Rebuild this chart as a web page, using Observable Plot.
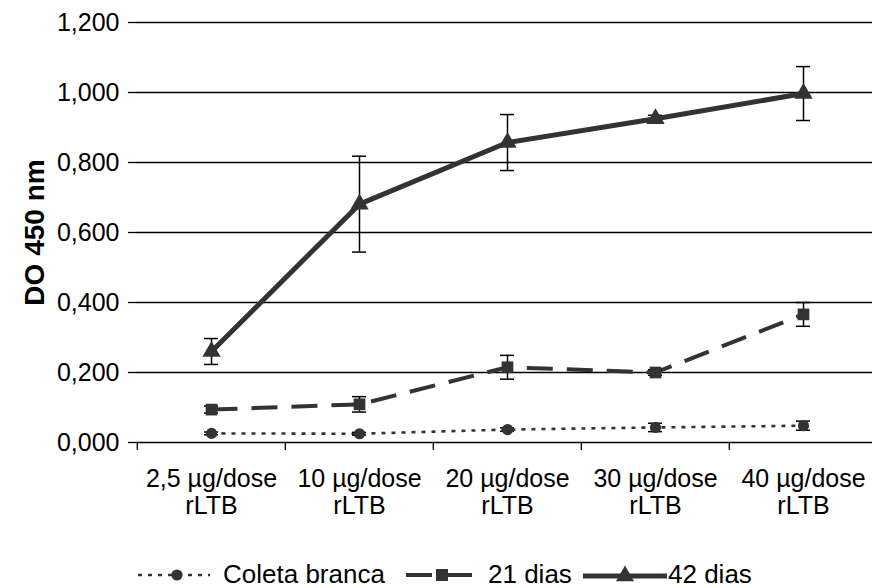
<!DOCTYPE html>
<html>
<head>
<meta charset="utf-8">
<script src="https://cdn.jsdelivr.net/npm/d3@7"></script>
<script src="https://cdn.jsdelivr.net/npm/@observablehq/plot@0.6"></script>
<style>
  html, body { margin: 0; padding: 0; background: #fff; }
  #wrap { width: 872px; font-family: "Liberation Sans", Arial, sans-serif; }
  #legend { position: relative; width: 872px; height: 43px; font-size: 26px; color: #000; }
  #legend .item { position: absolute; top: 8px; height: 43px; display: flex; align-items: center; }
  #legend svg { display: block; }
</style>
</head>
<body>
<div id="wrap"></div>
<script>
// ---- data ----
const categories = ["2,5 µg/dose\nrLTB", "10 µg/dose\nrLTB", "20 µg/dose\nrLTB", "30 µg/dose\nrLTB", "40 µg/dose\nrLTB"];
const seriesNames = ["Coleta branca", "21 dias", "42 dias"];
const coletaBranca = [0.026, 0.025, 0.037, 0.043, 0.048];
const coletaBrancaErr = [0.004, 0.004, 0.005, 0.012, 0.013];
const dias21 = [0.094, 0.109, 0.215, 0.200, 0.366];
const dias21Err = [0.010, 0.022, 0.034, 0.008, 0.034];
const dias42 = [0.260, 0.681, 0.857, 0.925, 0.997];
const dias42Err = [0.037, 0.137, 0.080, 0.010, 0.077];
const yTicks = [0, 0.2, 0.4, 0.6, 0.8, 1.0, 1.2];

const seriesValues = [coletaBranca, dias21, dias42];
const seriesErr = [coletaBrancaErr, dias21Err, dias42Err];
const rows = seriesNames.flatMap((s, k) => categories.map((c, i) => ({
  series: s, cat: c, value: seriesValues[k][i], err: seriesErr[k][i]
})));

const ink = "#333333";
const styles = {
  "Coleta branca": {strokeWidth: 2.6, dash: "4,6", symbol: "circle", r: 5.6},
  "21 dias": {strokeWidth: 4, dash: "26,14", symbol: "square", r: 6.6},
  "42 dias": {strokeWidth: 5, dash: null, symbol: "triangle", r: 6.8}
};

const fmt = d => d.toFixed(3).replace(".", ",");

const seriesMarks = seriesNames.map(s => {
  const data = rows.filter(d => d.series === s);
  const st = styles[s];
  return Plot.line(data, {x: "cat", y: "value", stroke: ink, strokeWidth: st.strokeWidth,
    strokeDasharray: st.dash || undefined, strokeLinejoin: "round", strokeLinecap: "butt"});
});
const errMarks = seriesNames.flatMap(s => {
  const data = rows.filter(d => d.series === s);
  return [
    Plot.ruleX(data, {x: "cat", y1: d => d.value - d.err, y2: d => d.value + d.err, stroke: "#000", strokeWidth: 1.5}),
    Plot.ruleY(data, {x1: "cat", x2: "cat", y: d => d.value - d.err, insetLeft: -7, insetRight: -7, stroke: "#000", strokeWidth: 1.5}),
    Plot.ruleY(data, {x1: "cat", x2: "cat", y: d => d.value + d.err, insetLeft: -7, insetRight: -7, stroke: "#000", strokeWidth: 1.5})
  ];
});
const dotMarks = seriesNames.map(s => {
  const data = rows.filter(d => d.series === s);
  const st = styles[s];
  return Plot.dot(data, {x: "cat", y: "value", symbol: st.symbol, r: st.r, fill: ink, stroke: "none"});
});

const chart = Plot.plot({
  width: 872,
  height: 545,
  marginLeft: 136,
  marginRight: 0,
  marginTop: 22,
  marginBottom: 103,
  style: {fontFamily: "'Liberation Sans', Arial, sans-serif", fontSize: "25px", color: "#000", background: "#fff", overflow: "visible"},
  x: {type: "point", domain: categories, range: [136, 878.4], padding: 0.5},
  y: {domain: [0, 1.2]},
  marks: [
    Plot.ruleY(yTicks, {stroke: "#000", strokeWidth: 1.3}),
    Plot.axisY(yTicks, {tickFormat: fmt, tickSize: 8, tickPadding: 9, line: true, label: null, fontSize: 25, strokeWidth: 1.3}),
    Plot.axisX({tickSize: 8, text: null, dx: -74.2, label: null, strokeWidth: 1.3}),
    Plot.axisX({tickSize: 0, tickPadding: 26, label: null, fontSize: 25, lineHeight: 1.06}),
    Plot.text(["DO 450 nm"], {frameAnchor: "left", textAnchor: "middle", rotate: -90, dx: -101, fontWeight: "bold", fontSize: 28, fill: "#000"}),
    ...seriesMarks,
    ...errMarks,
    ...dotMarks
  ]
});

const wrap = document.getElementById("wrap");
wrap.appendChild(chart);

// ---- legend ----
const legend = document.createElement("div");
legend.id = "legend";
const tri = "M0,-10.4L9,5.2L-9,5.2Z";
const legendItems = [
  {left: 138, svg: `<svg width="72" height="20"><line x1="0" y1="10" x2="72" y2="10" stroke="${ink}" stroke-width="2.6" stroke-dasharray="4,6"/><circle cx="39" cy="10" r="5.6" fill="${ink}"/></svg>`, label: seriesNames[0], gap: 13},
  {left: 404, svg: `<svg width="69" height="20"><line x1="0" y1="10" x2="69" y2="10" stroke="${ink}" stroke-width="4" stroke-dasharray="26,14" stroke-dashoffset="-2"/><rect x="32" y="4" width="12" height="12" fill="${ink}"/></svg>`, label: seriesNames[1], gap: 15},
  {left: 583, svg: `<svg width="84" height="22"><line x1="0" y1="12" x2="84" y2="12" stroke="${ink}" stroke-width="5"/><path transform="translate(42,12)" d="${tri}" fill="${ink}"/></svg>`, label: seriesNames[2], gap: 1}
];
legendItems.forEach(it => {
  const el = document.createElement("div");
  el.className = "item";
  el.style.left = it.left + "px";
  el.innerHTML = it.svg + `<span style="margin-left:${it.gap}px">${it.label}</span>`;
  legend.appendChild(el);
});
wrap.appendChild(legend);
</script>
</body>
</html>
